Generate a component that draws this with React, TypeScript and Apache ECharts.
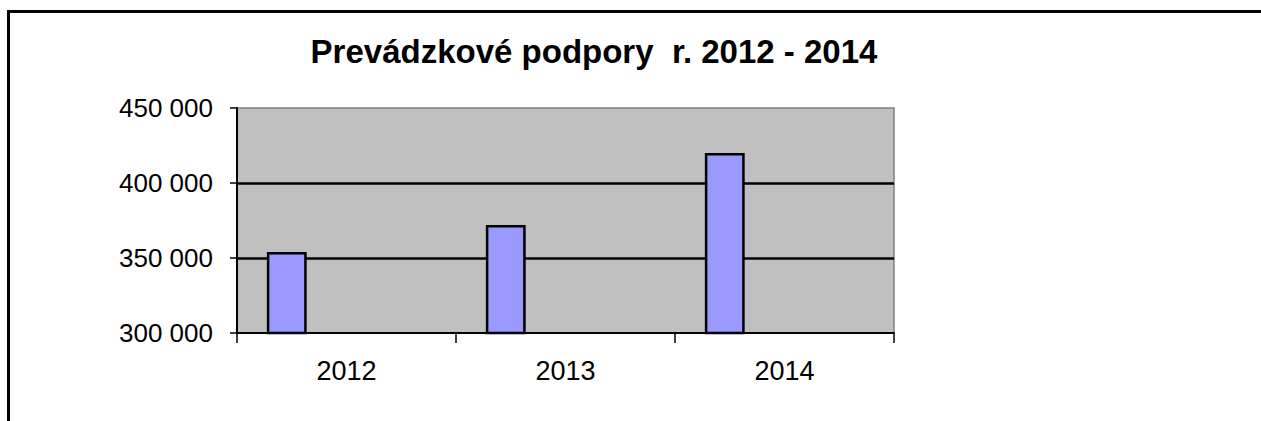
import React, { useEffect, useRef } from "react";
import * as echarts from "echarts";

const titleText = "Prevádzkové podpory  r. 2012 - 2014";
const categories = ["2012", "2013", "2014"];
const supportValues = [354000, 372000, 420000];
const emptySeriesA: (number | null)[] = [null, null, null];
const emptySeriesB: (number | null)[] = [null, null, null];
const emptySeriesC: (number | null)[] = [null, null, null];
const yMin = 300000;
const yMax = 450000;
const yStep = 50000;

const FONT = "'Liberation Sans', Arial, sans-serif";

export default function App() {
  const ref = useRef<HTMLDivElement>(null);
  useEffect(() => {
    if (!ref.current) return;
    const chart = echarts.init(ref.current, null, { renderer: "svg" });
    const fmt = (v: number) => String(v).replace(/\B(?=(\d{3})+(?!\d))/g, " ");
    chart.setOption({
      animation: false,
      backgroundColor: "#ffffff",
      title: {
        text: titleText,
        left: 589,
        top: 30,
        textAlign: "center",
        textStyle: { fontFamily: FONT, fontWeight: "bold", fontSize: 33, color: "#000" },
      },
      grid: {
        left: 237,
        top: 108,
        width: 657,
        height: 225,
        show: true,
        backgroundColor: "#C0C0C0",
        borderColor: "#808080",
        borderWidth: 1.5,
      },
      xAxis: {
        type: "category",
        data: categories,
        boundaryGap: true,
        axisLine: { show: true, lineStyle: { color: "#000", width: 2 } },
        axisTick: { show: true, length: 10, interval: 0, lineStyle: { color: "#000", width: 1.5 } },
        axisLabel: { fontFamily: FONT, fontSize: 27, color: "#000", margin: 24 },
      },
      yAxis: {
        type: "value",
        min: yMin,
        max: yMax,
        interval: yStep,
        axisLine: { show: true, lineStyle: { color: "#000", width: 2 } },
        axisTick: { show: true, length: 7, lineStyle: { color: "#000", width: 1.5 } },
        axisLabel: { fontFamily: FONT, fontSize: 26, color: "#000", margin: 24, formatter: fmt },
        splitLine: {
          show: true,
          lineStyle: { color: ["rgba(0,0,0,0)", "#000", "#000", "rgba(0,0,0,0)"], width: 2.5 },
        },
      },
      series: [
        {
          type: "bar",
          name: "Prevádzkové podpory",
          data: supportValues,
          barGap: "0%",
          barCategoryGap: "27.27%",
          itemStyle: { color: "#9999FF", borderColor: "#000", borderWidth: 2.5 },
        },
        { type: "bar", name: "s2", data: emptySeriesA },
        { type: "bar", name: "s3", data: emptySeriesB },
        { type: "bar", name: "s4", data: emptySeriesC },
      ],
      graphic: [
        { type: "line", shape: { x1: 7, y1: 11.5, x2: 1261, y2: 11.5 }, style: { stroke: "#000", lineWidth: 3 } },
        { type: "line", shape: { x1: 8.5, y1: 10, x2: 8.5, y2: 421 }, style: { stroke: "#000", lineWidth: 3 } },
      ],
    });
    return () => chart.dispose();
  }, []);
  return (
    <div
      ref={ref}
      style={{ position: "fixed", left: 0, top: 0, width: 1261, height: 421 }}
    />
  );
}
